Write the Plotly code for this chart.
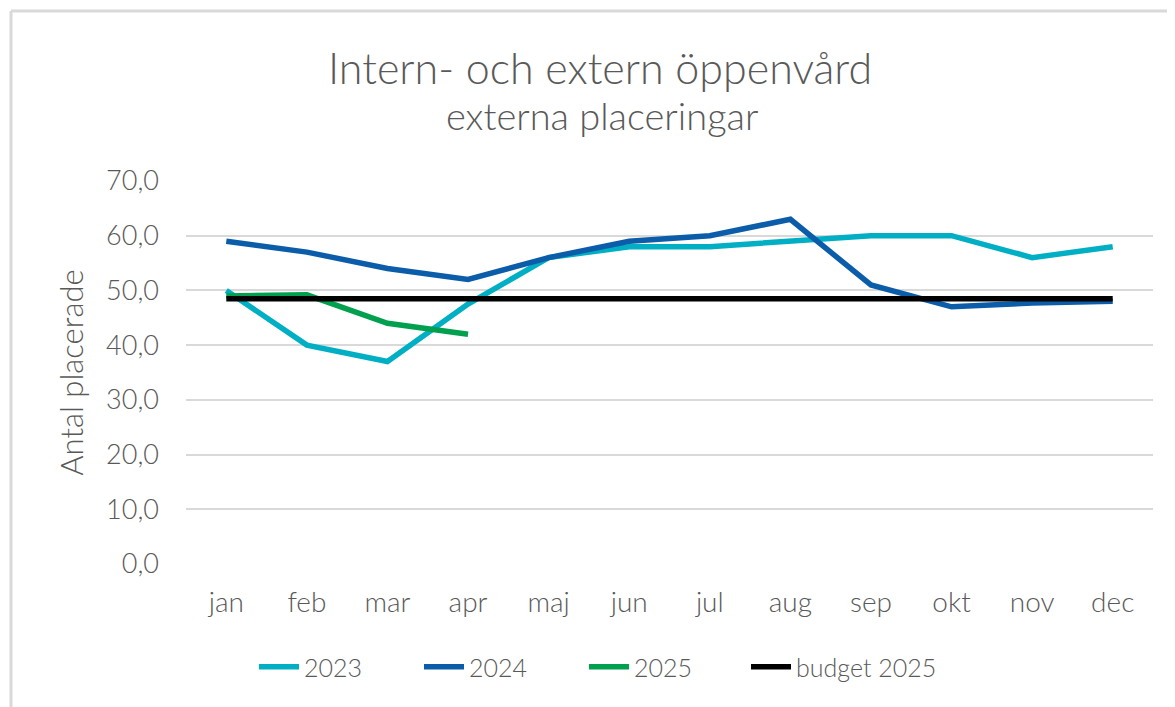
import plotly.graph_objects as go

months = ["jan", "feb", "mar", "apr", "maj", "jun", "jul", "aug", "sep", "okt", "nov", "dec"]
s2023 = [50, 40, 37, 47.5, 56, 58, 58, 59, 60, 60, 56, 58]
s2024 = [59, 57, 54, 52, 56, 59, 60, 63, 51, 47, 47.7, 48]
s2025 = [49, 49.2, 44, 42]
budget2025 = [48.5, 48.5, 48.5, 48.5, 48.5, 48.5, 48.5, 48.5, 48.5, 48.5, 48.5, 48.5]
y_ticks = [0, 10, 20, 30, 40, 50, 60, 70]

FONT = "Lato"
GREY = "#595959"
OFF = 8  # page body margin
W, H = 1175 - OFF, 707 - OFF
L, T = 186 - OFF, 181 - OFF
R = W - (1153 - OFF)
B = H - (564 - OFF)

fig = go.Figure()
series = [
    ("2023", months, s2023, "#00AFC4", "legend"),
    ("2024", months, s2024, "#0B5CA9", "legend"),
    ("2025", months[:len(s2025)], s2025, "#00A04E", "legend"),
    ("budget 2025", months, budget2025, "#000000", "legend2"),
]
for name, xs, ys, col, lg in series:
    fig.add_trace(go.Scatter(x=xs, y=ys, name=name, mode="lines", legend=lg,
                             line=dict(color=col, width=5.5)))

pw = W - L - R
ph = H - T - B
def px_x(px):  # reference page px -> paper
    return (px - OFF - L) / pw
def px_y(py):
    return (H - B - (py - OFF)) / ph

shapes = [
    dict(type="line", xref="paper", yref="paper", x0=px_x(11), x1=px_x(1180),
         y0=px_y(11), y1=px_y(11), line=dict(color="#D9D9D9", width=3)),
    dict(type="line", xref="paper", yref="paper", x0=px_x(11), x1=px_x(11),
         y0=px_y(11), y1=px_y(712), line=dict(color="#D9D9D9", width=3)),
]

annotations = [
    dict(text="Intern- och extern öppenvård", x=px_x(600), y=px_y(67), xref="paper", yref="paper",
         showarrow=False, font=dict(family=FONT, size=43, color=GREY, weight=300),
         xanchor="center", yanchor="middle"),
    dict(text="externa placeringar", x=px_x(602), y=px_y(115), xref="paper", yref="paper",
         showarrow=False, font=dict(family=FONT, size=38, color=GREY, weight=300),
         xanchor="center", yanchor="middle"),
]

legend_font = dict(family=FONT, size=25, color=GREY, weight=300)
fig.update_layout(
    width=W, height=H,
    margin=dict(l=L, r=R, t=T, b=B, autoexpand=False),
    paper_bgcolor="white", plot_bgcolor="white",
    separators=", ",
    font=dict(family=FONT, color=GREY, size=24),
    shapes=shapes,
    annotations=annotations,
    showlegend=True,
    legend=dict(orientation="h", x=px_x(254), y=px_y(667), xanchor="left", yanchor="middle",
                font=legend_font, itemwidth=40, traceorder="normal", entrywidth=110),
    legend2=dict(orientation="h", x=px_x(746), y=px_y(667), xanchor="left", yanchor="middle",
                 font=legend_font, itemwidth=40),
    hovermode=False,
)
fig.update_xaxes(type="category", range=[-0.5, 11.5], showgrid=False, showline=False,
                 ticks="", tickfont=dict(family=FONT, size=28, color=GREY, weight=300),
                 ticklabelstandoff=19)
fig.update_yaxes(range=[0, 70], tickvals=y_ticks, tickformat=".1f", showgrid=True,
                 gridcolor="#D9D9D9", gridwidth=2, zeroline=False, showline=False,
                 tickfont=dict(family=FONT, size=27, color=GREY, weight=300), ticklabelstandoff=26,
                 title=dict(text="Antal placerade", font=dict(family=FONT, size=31, color=GREY, weight=300),
                            standoff=13))

fig.write_html("out.html")
